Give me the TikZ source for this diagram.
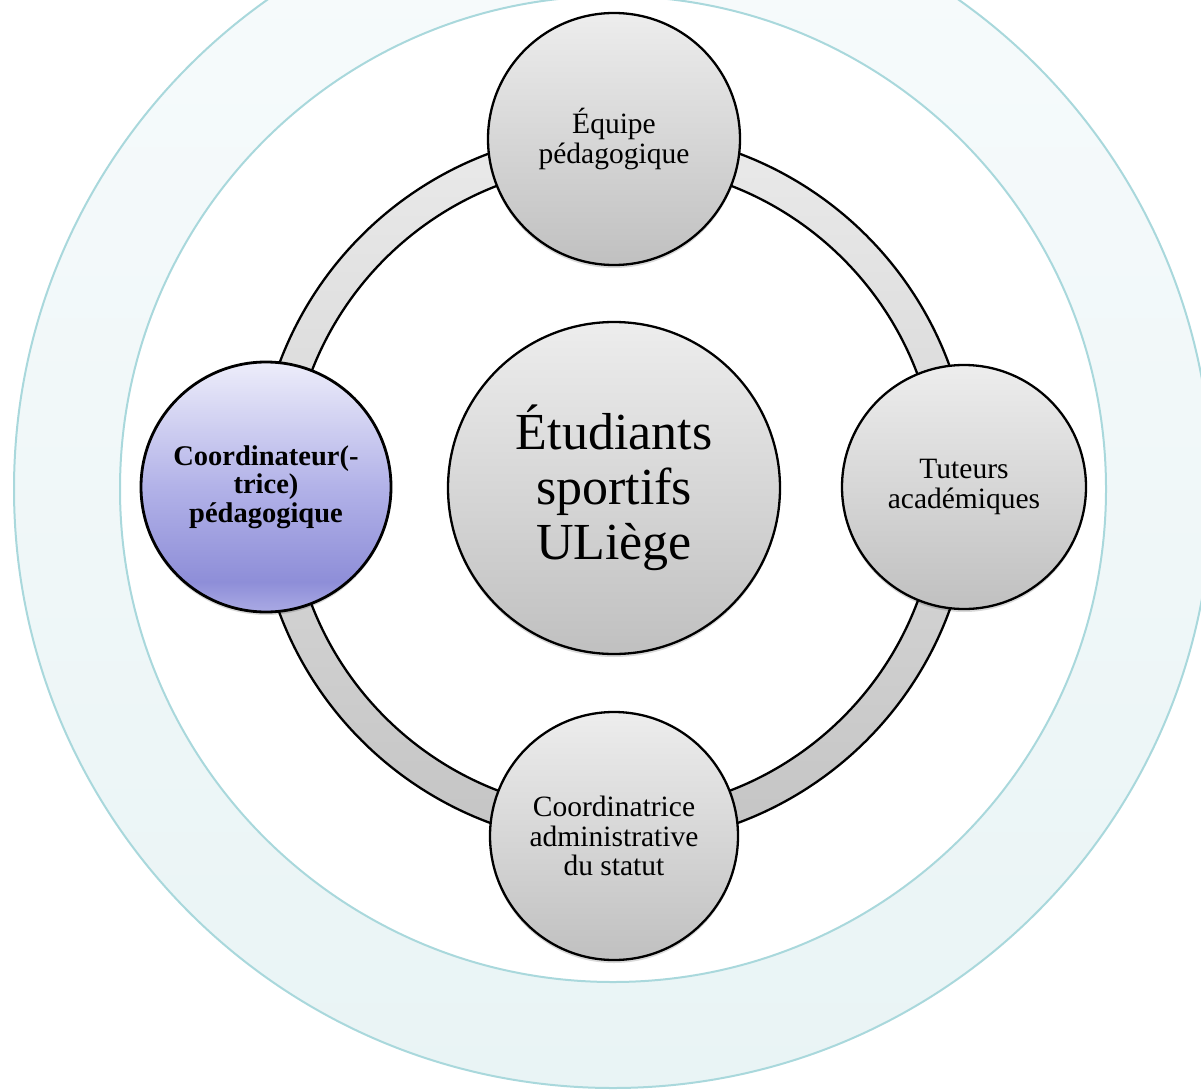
\documentclass[tikz,border=0pt]{standalone}
\usepackage{fontspec}
\setmainfont{Liberation Serif}
\usetikzlibrary{shadows}
\definecolor{tealline}{HTML}{A9D8DC}
\definecolor{tealtop}{HTML}{F7FBFC}
\definecolor{tealbot}{HTML}{E9F4F5}
\definecolor{grytop}{HTML}{EDEDED}
\definecolor{grybot}{HTML}{C0C0C0}
\definecolor{ringtop}{HTML}{EAEAEA}
\definecolor{ringbot}{HTML}{C4C4C4}
\definecolor{lavT}{HTML}{EDEDFA}
\definecolor{lavM}{HTML}{B2B2E8}
\definecolor{lavD}{HTML}{8E8ED8}
\definecolor{lavB}{HTML}{AAAAE4}
\pgfdeclareverticalshading{lavshade}{100bp}{color(0bp)=(lavB); color(25bp)=(lavB); color(31bp)=(lavD); color(50bp)=(lavM); color(75bp)=(lavT); color(100bp)=(lavT)}
\tikzset{
  softshadow/.style={drop shadow={opacity=0.15, shadow xshift=0pt, shadow yshift=-3pt, fill=black}},
  sat/.style={circle, draw=black, line width=2.3pt, top color=grytop, bottom color=grybot,
    inner sep=0pt, align=center, font=\fontsize{29.5}{29.5}\selectfont, softshadow},
  hub/.style={sat, font=\fontsize{52}{55}\selectfont},
  lead/.style={sat, shading=lavshade, line width=2.8pt, font=\fontsize{28.5}{28.5}\selectfont\bfseries},
  tealring/.style={draw=tealline, line width=2pt, top color=tealtop, bottom color=tealbot, even odd rule},
  grayring/.style={draw=black, line width=2.3pt, top color=ringtop, bottom color=ringbot, even odd rule}
}
\begin{document}
\begin{tikzpicture}[x=1pt, y=-1pt]
\useasboundingbox (0,0) rectangle (1201,1091);
\clip (0,0) rectangle (1201,1091);
\coordinate (o) at (614,488);
\coordinate (ot) at (613,489);
% outer teal ring
\path[tealring] (ot) circle[radius=599pt] (ot) circle[radius=493pt];
% gray cycle ring
\path[grayring] (o) circle[radius=357pt] (o) circle[radius=324pt];
% centre
\node[hub, minimum size=332pt] (c) at (o) {Étudiants\\sportifs\\ULiège};
% satellites
\node[sat, minimum size=252pt] (top) at (614,139) {Équipe\\pédagogique};
\node[sat, minimum size=244pt] (right) at (964,487) {Tuteurs\\académiques};
\node[sat, minimum size=248pt] (bottom) at (614,836) {Coordinatrice\\administrative\\du statut};
\node[lead, minimum size=250pt] (left) at (266,487) {Coordinateur(-\\trice)\\pédagogique};
\end{tikzpicture}
\end{document}
